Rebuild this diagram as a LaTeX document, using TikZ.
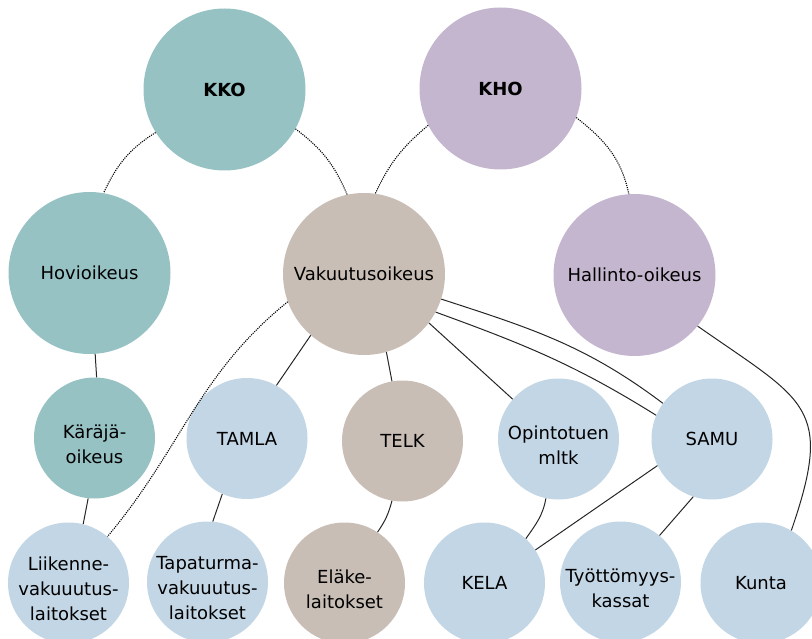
\documentclass[tikz,border=0pt]{standalone}
\usepackage{fontspec}
\setmainfont{DejaVu Sans}
\definecolor{myTeal}{RGB}{151,194,195}
\definecolor{myLilac}{RGB}{196,182,207}
\definecolor{myTaupe}{RGB}{201,190,182}
\definecolor{myPaleBlue}{RGB}{195,214,229}

\begin{document}
\begin{tikzpicture}[x=1pt, y=1pt,
	big/.style={circle, minimum size=162pt, inner sep=-20pt, align=center, font=\fontsize{18}{25}\selectfont},
	small/.style={circle, minimum size=121pt, inner sep=-20pt, align=center, font=\fontsize{18}{25}\selectfont},
	txt/.style={align=center, font=\fontsize{18}{25}\selectfont, yshift=-6pt},
	link/.style={line width=1pt, black!85},
	dots/.style={line width=1.1pt, dash pattern=on 1.1pt off 1.1pt, black}]
	\useasboundingbox (0,0) rectangle (812,-639);

			% courts
			\draw (224.5,-89.5) node[big, fill=myTeal] (KKO) {\textbf{KKO}};
			\draw (500.5,-88.5) node[big, fill=myLilac] (KHO) {\textbf{KHO}};
			\draw (89.5,-273) node[big, fill=myTeal] (Hov) {Hovioikeus};
			\draw (364,-274) node[big, fill=myTaupe] (Vak) {Vakuutusoikeus};
			\draw (634.5,-275) node[big, fill=myLilac] (Hal) {Hallinto-oikeus};

			\draw (94.5,-438) node[small, fill=myTeal, label={[txt]center:Käräjä-\\oikeus}] (Kar) {};
			\draw (247,-438.5) node[small, fill=myPaleBlue] (Tamla) {TAMLA};
			\draw (402.5,-441) node[small, fill=myTaupe] (Telk) {TELK};
			\draw (558.5,-439) node[small, fill=myPaleBlue, label={[txt]center:Opintotuen\\mltk}] (Opin) {};
			\draw (712,-439) node[small, fill=myPaleBlue] (Samu) {SAMU};

			\draw (68.5,-583) node[small, fill=myPaleBlue, label={[txt]center:Liikenne-\\vakuuutus-\\laitokset}] (Lii) {};
			\draw (207.5,-582) node[small, fill=myPaleBlue, label={[txt]center:Tapaturma-\\vakuuutus-\\laitokset}] (Tap) {};
			\draw (344.5,-583) node[small, fill=myTaupe, label={[txt]center:Eläke-\\laitokset}] (Ela) {};
			\draw (484.5,-583) node[small, fill=myPaleBlue] (Kela) {KELA};
			\draw (620.5,-582) node[small, fill=myPaleBlue, label={[txt]center:Työttömyys-\\kassat}] (Tyo) {};
			\draw (761,-583) node[small, fill=myPaleBlue] (Kunta) {Kunta};

			\path[link]
			(Hov.274) edge (Kar.88)
			(Kar.264) edge (Lii.76)
			(Vak.229) edge (Tamla.61)
			(Vak.286) edge (Telk.100)
			(Vak.323) edge (Opin.139)
			(Vak.342) edge[out=-18, in=143] (Samu.144)
			(Vak.332) edge[out=-20, in=148] (Samu.157)
			(Hal.321) edge[out=-35, in=71, looseness=1.5] (Kunta.60)
			(Tamla.246) edge (Tap.85)
			(Telk.260) edge[bend left=10] (Ela.57)
			(Opin.258) edge[out=260, in=55] (Kela.47)
			(Samu.206) edge (Kela.33)
			(Samu.252) edge (Tyo.50)
			;
			\path[dots]
			(KKO.212) edge[out=212, in=65] (Hov.80)
			(KKO.331) edge[out=-37, in=113] (Vak.102)
			(KHO.207) edge[out=220, in=65] (Vak.82)
			(KHO.339) edge[out=-38, in=102] (Hal.94)
			(Vak.200) edge[out=219, in=50] (Lii.50)
			;
		\end{tikzpicture}
\end{document}
